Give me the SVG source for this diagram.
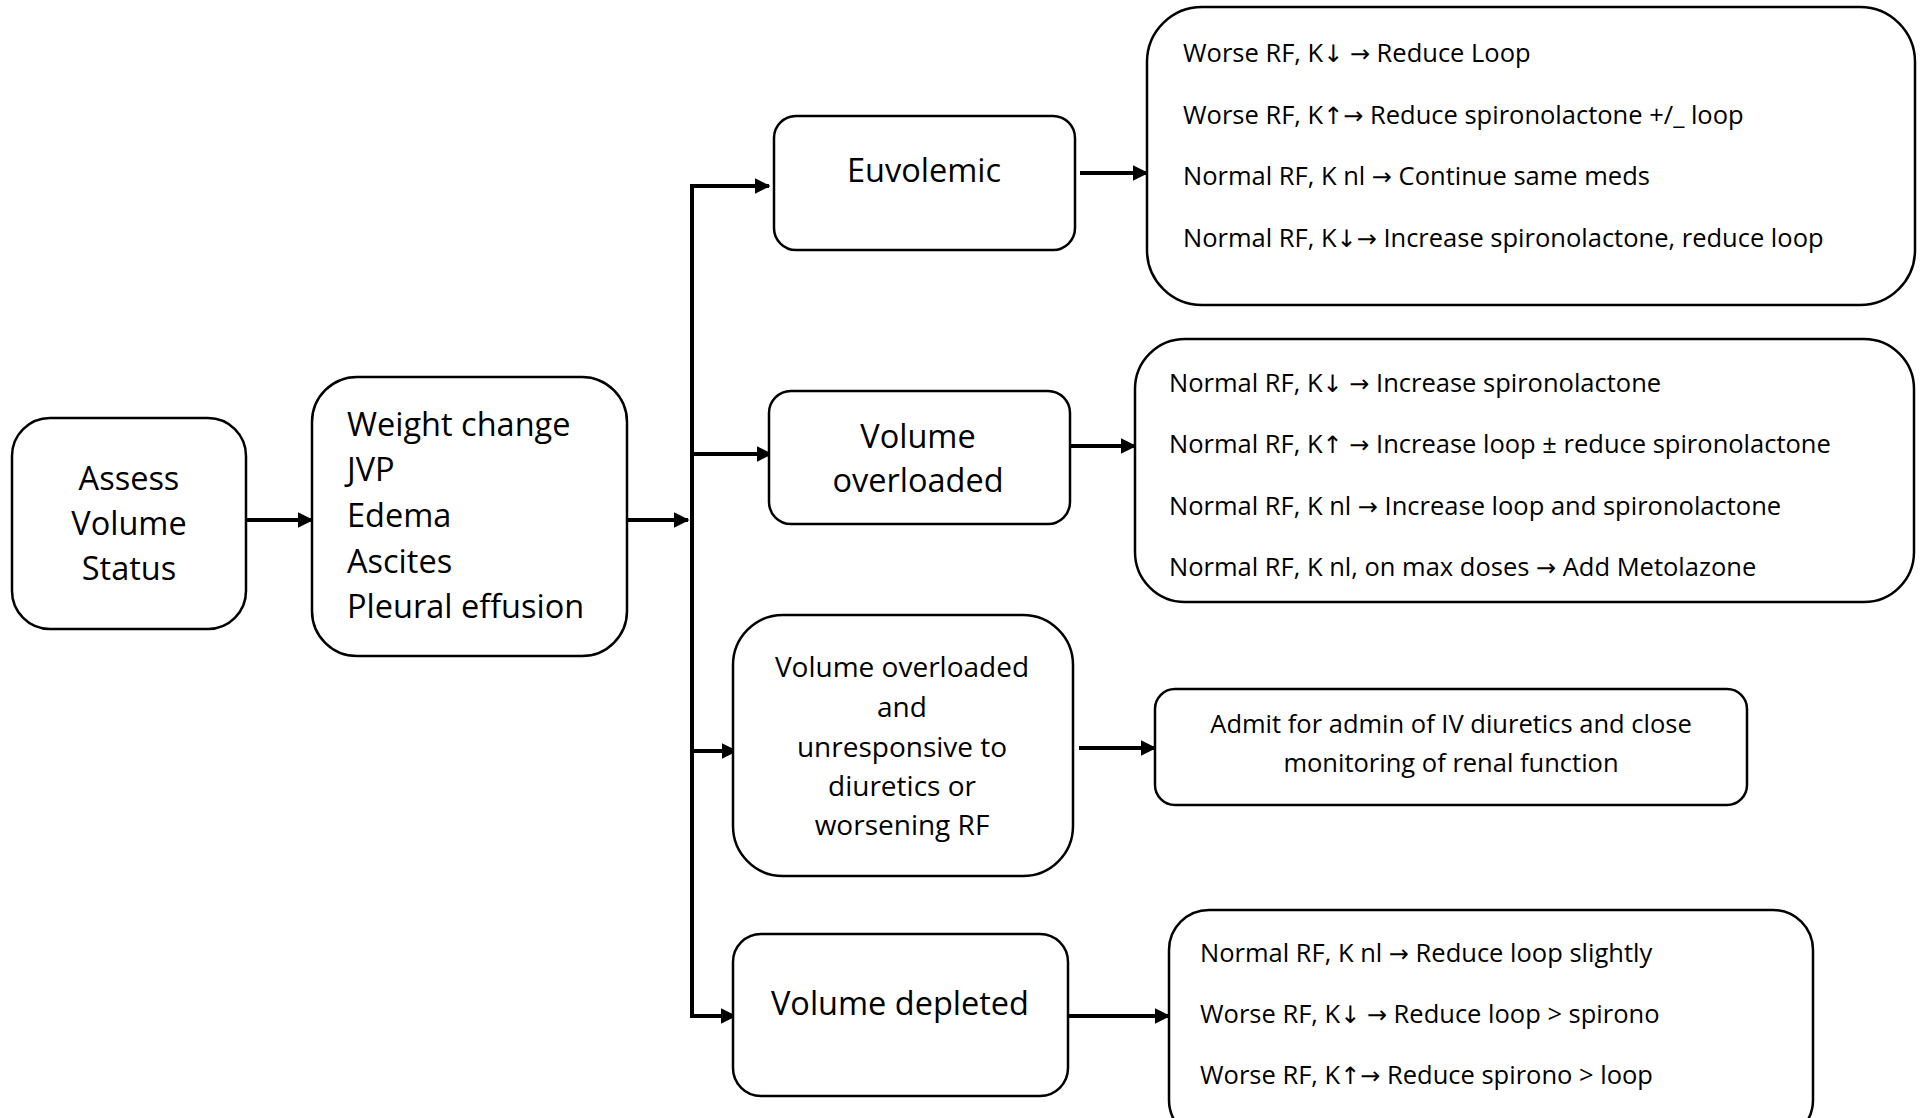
<svg xmlns="http://www.w3.org/2000/svg" width="1920" height="1118" viewBox="0 0 1920 1118">
<defs>
<marker id="ah" markerWidth="4" markerHeight="4" refX="3.6" refY="2" orient="auto" markerUnits="strokeWidth">
<path d="M0,0 L4,2 L0,4 Z" fill="#000"/>
</marker>
<style>
.box{fill:#fff;stroke:#000;stroke-width:2.5}
.big{font-family:"Open Sans","Noto Sans",sans-serif;font-size:32.5px;fill:#000}
.mid{font-family:"Open Sans","Noto Sans",sans-serif;font-size:28px;fill:#000}
.sm{font-family:"Open Sans","Noto Sans",sans-serif;font-size:25.5px;fill:#000}
.a{font-family:"DejaVu Sans",sans-serif;font-size:24px}
.c{text-anchor:middle}
.con{fill:none;stroke:#000;stroke-width:4}
.arr{marker-end:url(#ah)}
</style>
</defs>
<rect width="1920" height="1118" fill="#fff"/>
<g id="connectors">
<line class="con arr" x1="246" y1="520" x2="312" y2="520"/>
<line class="con arr" x1="627" y1="520" x2="688" y2="520"/>
<line class="con" x1="692" y1="184" x2="692" y2="1018"/>
<line class="con arr" x1="690" y1="186" x2="769" y2="186"/>
<line class="con arr" x1="690" y1="454" x2="771" y2="454"/>
<line class="con arr" x1="690" y1="751" x2="736" y2="751"/>
<line class="con arr" x1="690" y1="1016" x2="735" y2="1016"/>
<line class="con arr" x1="1080" y1="173" x2="1147" y2="173"/>
<line class="con arr" x1="1070" y1="446" x2="1135" y2="446"/>
<line class="con arr" x1="1079" y1="748" x2="1155" y2="748"/>
<line class="con arr" x1="1068" y1="1016" x2="1169" y2="1016"/>
</g>
<g id="assess">
<rect class="box" x="12" y="418" width="234" height="211" rx="38"/>
<text class="big c" x="129" y="490">Assess</text>
<text class="big c" x="129" y="535">Volume</text>
<text class="big c" x="129" y="580">Status</text>
</g>
<g id="signs">
<rect class="box" x="312" y="377" width="315" height="279" rx="45"/>
<text class="big" x="347" y="436">Weight change</text>
<text class="big" x="347" y="481">JVP</text>
<text class="big" x="347" y="527">Edema</text>
<text class="big" x="347" y="573">Ascites</text>
<text class="big" x="347" y="618">Pleural effusion</text>
</g>
<g id="euvolemic">
<rect class="box" x="774" y="116" width="301" height="134" rx="22"/>
<text class="big c" x="924" y="182">Euvolemic</text>
</g>
<g id="euvolemic-actions">
<rect class="box" x="1147" y="7" width="768" height="298" rx="55"/>
<text class="sm" x="1183" y="62">Worse RF, K<tspan class="a">↓</tspan> <tspan class="a">→</tspan> Reduce Loop</text>
<text class="sm" x="1183" y="124">Worse RF, K<tspan class="a">↑</tspan><tspan class="a">→</tspan> Reduce spironolactone +/_ loop</text>
<text class="sm" x="1183" y="185">Normal RF, K nl <tspan class="a">→</tspan> Continue same meds</text>
<text class="sm" x="1183" y="247">Normal RF, K<tspan class="a">↓</tspan><tspan class="a">→</tspan> Increase spironolactone, reduce loop</text>
</g>
<g id="overloaded">
<rect class="box" x="769" y="391" width="301" height="133" rx="22"/>
<text class="big c" x="918" y="448">Volume</text>
<text class="big c" x="918" y="492">overloaded</text>
</g>
<g id="overloaded-actions">
<rect class="box" x="1135" y="339" width="779" height="263" rx="50"/>
<text class="sm" x="1169" y="392">Normal RF, K<tspan class="a">↓</tspan> <tspan class="a">→</tspan> Increase spironolactone</text>
<text class="sm" x="1169" y="453">Normal RF, K<tspan class="a">↑</tspan> <tspan class="a">→</tspan> Increase loop ± reduce spironolactone</text>
<text class="sm" x="1169" y="515">Normal RF, K nl <tspan class="a">→</tspan> Increase loop and spironolactone</text>
<text class="sm" x="1169" y="576">Normal RF, K nl, on max doses <tspan class="a">→</tspan> Add Metolazone</text>
</g>
<g id="unresponsive">
<rect class="box" x="733" y="615" width="340" height="261" rx="50"/>
<text class="mid c" x="902" y="677">Volume overloaded</text>
<text class="mid c" x="902" y="717">and</text>
<text class="mid c" x="902" y="757">unresponsive to</text>
<text class="mid c" x="902" y="796">diuretics or</text>
<text class="mid c" x="902" y="835">worsening RF</text>
</g>
<g id="admit">
<rect class="box" x="1155" y="689" width="592" height="116" rx="20"/>
<text class="sm c" x="1451" y="733">Admit for admin of IV diuretics and close</text>
<text class="sm c" x="1451" y="772">monitoring of renal function</text>
</g>
<g id="depleted">
<rect class="box" x="733" y="934" width="335" height="162" rx="28"/>
<text class="big c" x="900" y="1015">Volume depleted</text>
</g>
<g id="depleted-actions">
<rect class="box" x="1169" y="910" width="644" height="230" rx="40"/>
<text class="sm" x="1200" y="962">Normal RF, K nl <tspan class="a">→</tspan> Reduce loop slightly</text>
<text class="sm" x="1200" y="1023">Worse RF, K<tspan class="a">↓</tspan> <tspan class="a">→</tspan> Reduce loop &gt; spirono</text>
<text class="sm" x="1200" y="1084">Worse RF, K<tspan class="a">↑</tspan><tspan class="a">→</tspan> Reduce spirono &gt; loop</text>
</g>
</svg>
